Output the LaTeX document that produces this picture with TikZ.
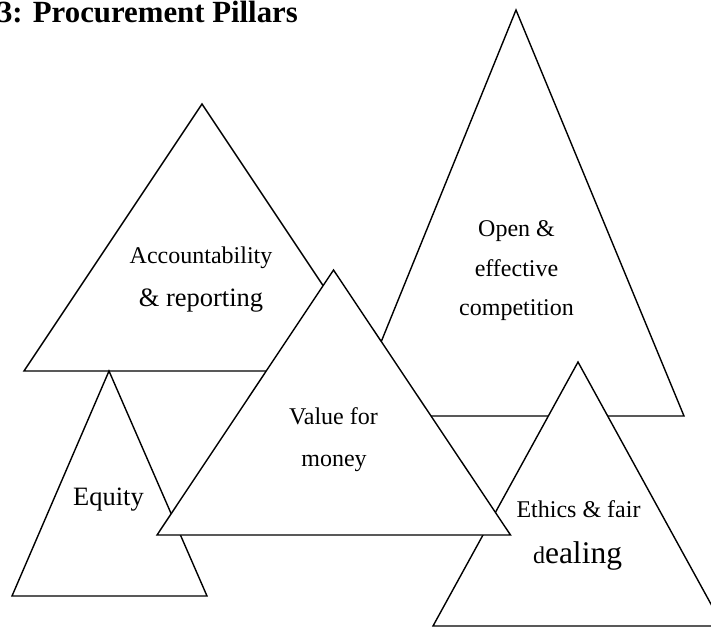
\documentclass[tikz,border=0pt]{standalone}
\usepackage{fontspec}
\setmainfont{Liberation Serif}
\begin{document}
\begin{tikzpicture}[x=1pt,y=-1pt,
  tri/.style={draw=black, fill=white, line width=1.4pt, line join=miter},
  lbl/.style={inner sep=0pt, anchor=base},
  fs/.style={font=\fontsize{#1}{#1}\selectfont}]
\useasboundingbox (0,0) rectangle (711,627);
\fill[white] (0,0) rectangle (711,627);
% triangles, back to front
\draw[tri] (24,371) -- (202,104) -- (380,371) -- cycle;
\draw[tri] (351,416) -- (516,10) -- (684,416) -- cycle;
\draw[tri] (12,596) -- (109,371) -- (207,596) -- cycle;
\draw[tri] (433,626) -- (578,362) -- (723,626) -- cycle;
\draw[tri] (157,535) -- (333.5,270) -- (510.5,535) -- cycle;
% title
\node[anchor=base east, inner sep=0pt, font=\bfseries\fontsize{30.8}{30.8}\selectfont] (title) at (298,22) {3: Procurement Pillars};
% labels
\node[lbl, fs=24] (acc1) at (201,263) {Accountability};
\node[lbl, fs=26.5] (acc2) at (201,306) {\& reporting};
\node[lbl, fs=24] (open1) at (516.5,236) {Open \&};
\node[lbl, fs=24] (open2) at (516.5,276) {effective};
\node[lbl, fs=24] (open3) at (516.5,315) {competition};
\node[lbl, fs=24] (val1) at (333.5,424) {Value for};
\node[lbl, fs=24] (val2) at (334,466) {money};
\node[lbl, fs=26.5] (eq) at (108.5,505) {Equity};
\node[lbl, fs=24] (eth1) at (578.5,517) {Ethics \& fair};
\node[lbl] (eth2) at (577.5,563) {{\fontsize{24}{24}\selectfont d}{\fontsize{31.5}{31.5}\selectfont ealing}};
\end{tikzpicture}
\end{document}
